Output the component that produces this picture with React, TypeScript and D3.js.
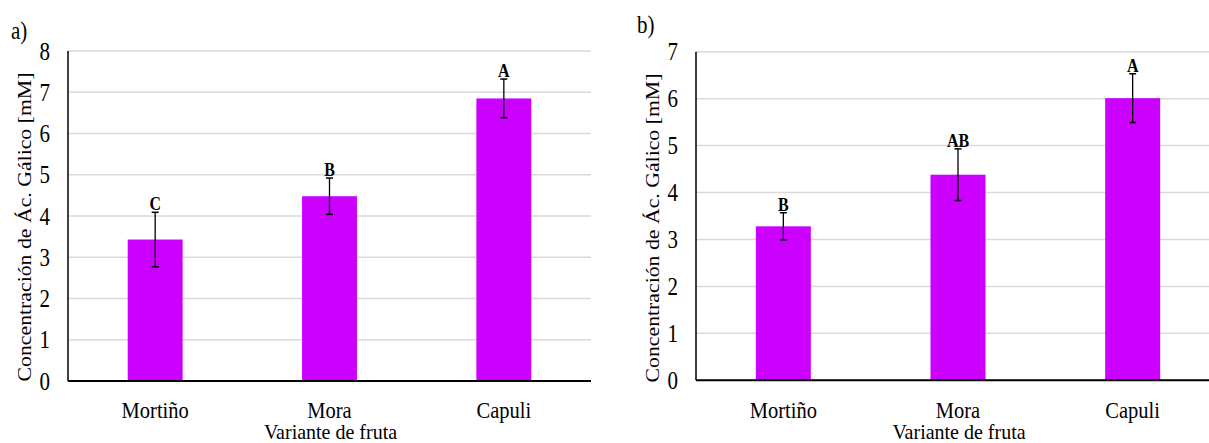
import React from "react";
import * as d3 from "d3";

const categories = ["Mortiño", "Mora", "Capuli"];
const valuesA = [3.43, 4.48, 6.85];
const errorsA = [0.66, 0.44, 0.47];
const lettersA = ["C", "B", "A"];
const ticksA = [0, 1, 2, 3, 4, 5, 6, 7, 8];

const valuesB = [3.28, 4.38, 6.01];
const errorsB = [0.29, 0.55, 0.52];
const lettersB = ["B", "AB", "A"];
const ticksB = [0, 1, 2, 3, 4, 5, 6, 7];

const yTitle = "Concentración  de  Ác.  Gálico  [mM]";
const xTitle = "Variante  de fruta";

const FONT = "Liberation Serif, Times New Roman, serif";
const BAR = "#CC00FF";
const SY = 1.15;

type PanelProps = {
  tag: string;
  tagX: number;
  tagY: number;
  x0: number;
  x1: number;
  yTop: number;
  y0: number;
  max: number;
  values: number[];
  errors: number[];
  letters: string[];
  ticks: number[];
  titleX: number;
  titleY: number;
};

function T({ x, y, anchor = "start", size, weight = "normal", sy = SY, children }: any) {
  return (
    <text
      transform={`translate(${x},${y}) scale(1,${sy})`}
      textAnchor={anchor}
      style={{ fontFamily: FONT, fontSize: size, fontWeight: weight }}
      fill="#000"
    >
      {children}
    </text>
  );
}

function Panel(p: PanelProps) {
  const x = d3
    .scaleBand<string>()
    .domain(categories)
    .range([p.x0, p.x1])
    .paddingInner(0.685)
    .paddingOuter(0.3425);
  const y = d3.scaleLinear().domain([0, p.max]).range([p.y0, p.yTop]);
  const bw = x.bandwidth();
  return (
    <g>
      {p.ticks.map((t) => (
        <line
          key={"g" + t}
          x1={p.x0}
          x2={p.x1}
          y1={y(t)}
          y2={y(t)}
          stroke="#d9d9d9"
          strokeWidth={1.5}
        />
      ))}
      {categories.map((c, i) => (
        <rect
          key={"b" + c}
          x={x(c)!}
          y={y(p.values[i])}
          width={bw}
          height={p.y0 - y(p.values[i])}
          fill={BAR}
        />
      ))}
      <line x1={p.x0} x2={p.x0} y1={p.yTop} y2={p.y0} stroke="#000" strokeWidth={1.5} />
      <line x1={p.x0} x2={p.x1} y1={p.y0} y2={p.y0} stroke="#000" strokeWidth={2} />
      {categories.map((c, i) => {
        const cx = x(c)! + bw / 2;
        const hi = y(p.values[i] + p.errors[i]);
        const lo = y(p.values[i] - p.errors[i]);
        return (
          <g key={"e" + c}>
            <line x1={cx} x2={cx} y1={hi} y2={lo} stroke="#000" strokeWidth={1.3} />
            <line x1={cx - 3.5} x2={cx + 3.5} y1={hi} y2={hi} stroke="#000" strokeWidth={1.5} />
            <line x1={cx - 3.5} x2={cx + 3.5} y1={lo} y2={lo} stroke="#000" strokeWidth={1.5} />
            <T x={cx} y={hi - 2} anchor="middle" size={16} weight="bold">
              {p.letters[i]}
            </T>
            <T x={cx} y={418} anchor="middle" size={20.5} sy={1.1}>
              {c}
            </T>
          </g>
        );
      })}
      {p.ticks.map((t) => (
        <T key={"t" + t} x={p.x0 - 18} y={y(t) + 8.5} anchor="end" size={21}>
          {t}
        </T>
      ))}
      <text
        transform={`translate(${p.titleX},${p.titleY}) rotate(-90)`}
        textAnchor="middle"
        style={{ fontFamily: FONT, fontSize: 19 }}
        textLength={309}
        lengthAdjust="spacingAndGlyphs"
        fill="#000"
      >
        {yTitle}
      </text>
      <T x={(p.x0 + p.x1) / 2 + 1} y={439} anchor="middle" size={20} sy={1.1}>
        {xTitle}
      </T>
      <T x={p.tagX} y={p.tagY} size={21}>
        {p.tag}
      </T>
    </g>
  );
}

export default function App() {
  return (
    <svg
      width={1209}
      height={443}
      style={{ position: "absolute", left: 0, top: 0, background: "#fff" }}
    >
      <rect width={1209} height={443} fill="#fff" />
      <Panel
        tag="a)"
        tagX={11}
        tagY={39}
        x0={68}
        x1={591}
        yTop={51}
        y0={381}
        max={8}
        values={valuesA}
        errors={errorsA}
        letters={lettersA}
        ticks={ticksA}
        titleX={31}
        titleY={227}
      />
      <Panel
        tag="b)"
        tagX={637}
        tagY={33}
        x0={696}
        x1={1220}
        yTop={51.7}
        y0={380.3}
        max={7}
        values={valuesB}
        errors={errorsB}
        letters={lettersB}
        ticks={ticksB}
        titleX={659}
        titleY={228}
      />
    </svg>
  );
}
